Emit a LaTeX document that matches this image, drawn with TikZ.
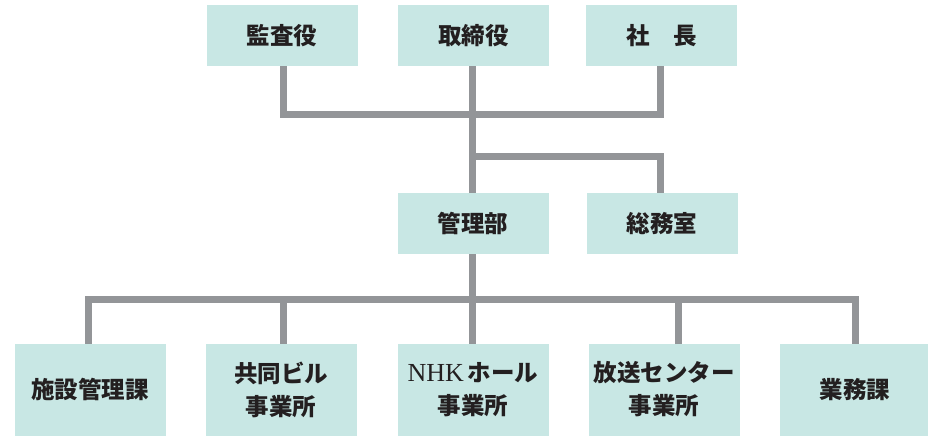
\documentclass[tikz,border=0pt]{standalone}
\usepackage{fontspec}
\setmainfont{Noto Sans CJK JP}
\newfontfamily\latinserif{Liberation Serif}
\definecolor{boxfill}{HTML}{C8E7E4}
\definecolor{linegray}{HTML}{939598}
\definecolor{txt}{HTML}{231F20}
\begin{document}
\begin{tikzpicture}[x=1pt,y=-1pt,
  orgbox/.style={fill=boxfill,draw=none,inner sep=0pt,outer sep=0pt,
    minimum width=151pt,minimum height=61pt,text=txt,font=\bfseries\fontsize{23.5}{33}\selectfont,align=center},
  tallbox/.style={orgbox,minimum height=92pt},
  conn/.style={draw=linegray,line width=7pt,line join=miter,line cap=butt}]
\useasboundingbox (0,0) rectangle (928,437);
% top row
\node[orgbox] (kansa) at (282,35.5) {監査役};
\node[orgbox] (tori) at (473.5,35.5) {取締役};
\node[orgbox] (shacho) at (661.5,35.5) {社　長};
% middle row
\node[orgbox] (kanri) at (473,223.5) {管理部};
\node[orgbox] (soumu) at (662,223.5) {総務室};
% bottom row
\node[tallbox] (b1) at (90,389.5) {施設管理課};
\node[tallbox] (b2) at (281,389.5) {共同ビル\\事業所};
\node[tallbox] (b3) at (473,389.5) {{\latinserif\mdseries\fontsize{26}{33}\selectfont NHK}\,ホール\\事業所};
\node[tallbox] (b4) at (664,389.5) {放送センター\\事業所};
\node[tallbox] (b5) at (855,389.5) {業務課};
% junction coordinates
\coordinate (j1) at (472.5,114.5);
\coordinate (j2) at (472.5,156.5);
\coordinate (j3) at (472.5,299.5);
\coordinate (top1) at (283,66);
\coordinate (top3) at (660,66);
\coordinate (b4top) at (678,344);
% connectors
\draw[conn] (kansa.south -| top1) -- (top1 |- j1) -- (top3 |- j1) -- (shacho.south -| top3);
\draw[conn] (tori.south -| j1) -- (kanri.north -| j1);
\draw[conn] (j2) -| (soumu.north -| top3);
\draw[conn] (kanri.south -| j3) -- (j3);
\draw[conn] (b1.north -| 88,0) -- (88,299.5) -- (855,299.5) -- (b5.north);
\draw[conn] (b2.north -| top1) -- (top1 |- j3);
\draw[conn] (b3.north -| j3) -- (j3);
\draw[conn] (b4top) -- (b4top |- j3);
\end{tikzpicture}
\end{document}
